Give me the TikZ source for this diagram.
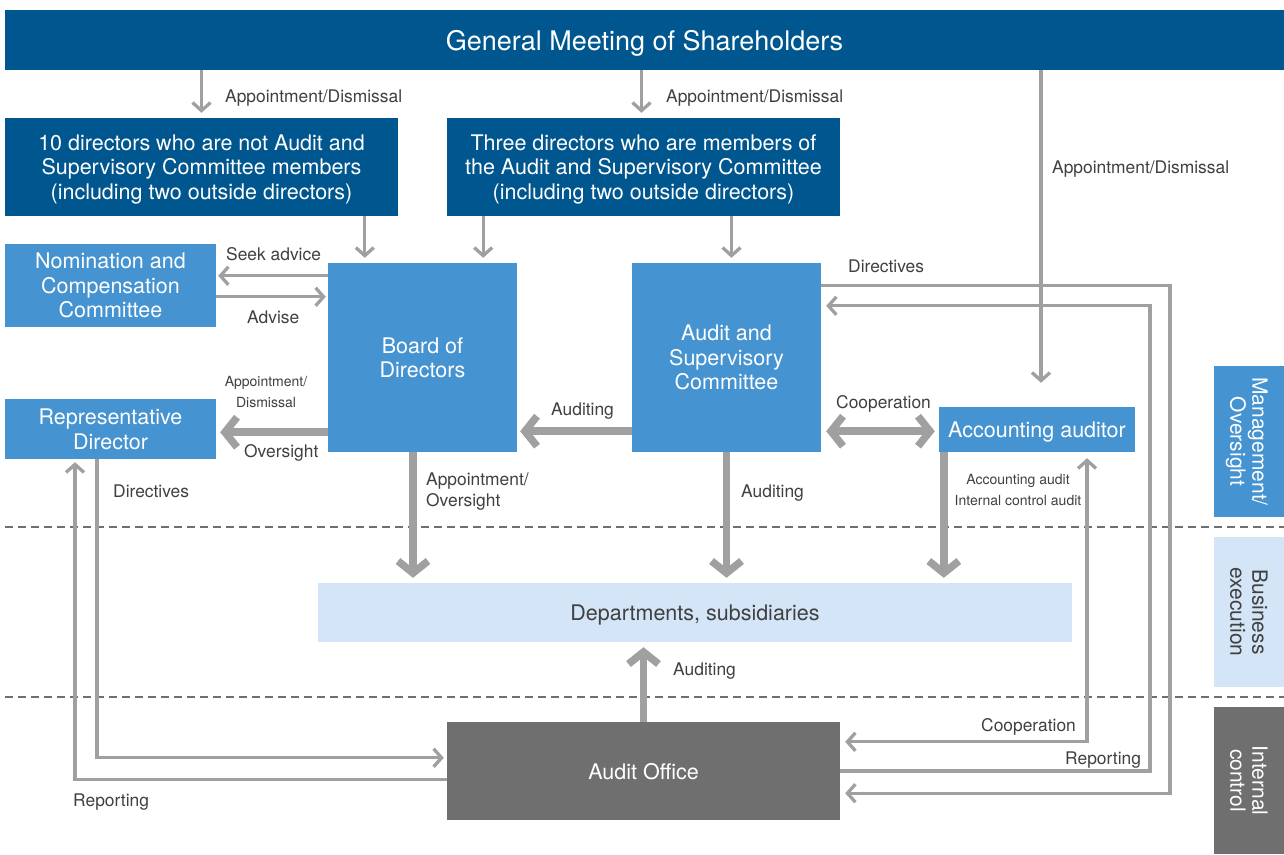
\documentclass[tikz,border=0pt]{standalone}
\usepackage{fontspec}
\setmainfont{TeX Gyre Heros}
\usetikzlibrary{arrows.meta}

\definecolor{gmsblue}{HTML}{00568F}
\definecolor{boxblue}{HTML}{4593D0}
\definecolor{paleblue}{HTML}{D3E5F6}
\definecolor{linegray}{HTML}{A0A0A0}
\definecolor{officegray}{HTML}{6F6F6F}
\definecolor{textgray}{HTML}{404040}

\tikzset{
  box/.style={rectangle, inner sep=0pt, align=center, text=white, text depth=0pt,
    font=\fontsize{21.5}{24.5}\selectfont},
  darkbox/.style={box, fill=gmsblue},
  bluebox/.style={box, fill=boxblue},
  sidebox/.style={box, rotate=-90, minimum height=70pt,
    font=\fontsize{21}{22}\selectfont},
  lbl/.style={inner sep=0pt, anchor=west, text=textgray, text depth=0pt,
    font=\fontsize{17.4}{21}\selectfont},
  smalllbl/.style={lbl, font=\fontsize{14}{21}\selectfont},
  thinarr/.style={draw=linegray, line width=3.3pt,
    -{Straight Barb[length=8pt,width=18pt]}},
  thickarr/.style={draw=linegray, line width=7.5pt,
    -{Straight Barb[length=12pt,width=30pt]}},
  zone/.style={draw=officegray, line width=1.2pt, dash pattern=on 8pt off 5pt}
}

\begin{document}
\begin{tikzpicture}[x=1pt,y=-1pt]
  \useasboundingbox[fill=white] (0,0) rectangle (1284,854);

  % zone borders
  \draw[zone] (5,527) -- (1284,527);
  \draw[zone] (5,697) -- (1284,697);

  % boxes
  \node[darkbox, minimum width=1279pt, minimum height=60pt, font=\fontsize{27}{28}\selectfont]
    (gms) at (644.5,40) {General Meeting of Shareholders};
  \node[darkbox, minimum width=393pt, minimum height=98pt] (dirs) at (201.5,167)
    {10 directors who are not Audit and\\Supervisory Committee members\\(including two outside directors)};
  \node[darkbox, minimum width=393pt, minimum height=98pt] (acm) at (643.5,167)
    {Three directors who are members of\\the Audit and Supervisory Committee\\(including two outside directors)};
  \node[bluebox, minimum width=211pt, minimum height=83pt] (nom) at (110.5,285.5)
    {Nomination and\\Compensation\\Committee};
  \node[bluebox, minimum width=189pt, minimum height=189pt] (board) at (422.5,357.5)
    {Board of\\Directors};
  \node[bluebox, minimum width=189pt, minimum height=189pt] (asc) at (726.5,357.5)
    {Audit and\\Supervisory\\Committee};
  \node[bluebox, minimum width=211pt, minimum height=60pt] (rep) at (110.5,429)
    {Representative\\Director};
  \node[bluebox, minimum width=196pt, minimum height=45pt] (aa) at (1037,429.5)
    {Accounting auditor};
  \node[box, fill=paleblue, text=textgray, minimum width=754pt, minimum height=59pt]
    (dept) at (695,612.5) {Departments, subsidiaries};
  \node[box, fill=officegray, minimum width=393pt, minimum height=98pt] (office)
    at (643.5,771) {Audit Office};

  % side captions
  \node[sidebox, fill=boxblue, minimum width=151pt] (mgmt) at (1249,441.5)
    {Management/\\Oversight};
  \node[sidebox, fill=paleblue, text=textgray, minimum width=150pt] (biz) at (1249,612)
    {Business\\execution};
  \node[sidebox, fill=officegray, minimum width=147pt] (ictl) at (1249,780.5)
    {Internal\\control};

  % columns of the long return lines
  \coordinate (rptcol) at (1150,0);
  \coordinate (dircol) at (1170,0);

  % appointments from the meeting
  \draw[thinarr, shorten >=5pt] (dirs.north |- gms.south) -- (dirs.north);
  \draw[thinarr, shorten >=5pt] ([xshift=-2pt]acm.north |- gms.south) -- ([xshift=-2pt]acm.north);
  \draw[thinarr, shorten >=24pt] ([xshift=4pt]aa.north |- gms.south) -- ([xshift=4pt]aa.north);
  \draw[thinarr, shorten >=5pt] ([xshift=37pt]board.north west |- dirs.south) -- ([xshift=37pt]board.north west);
  \draw[thinarr, shorten >=5pt] ([xshift=-34pt]board.north east |- acm.south) -- ([xshift=-34pt]board.north east);
  \draw[thinarr, shorten >=5pt] ([xshift=5pt]asc.north |- acm.south) -- ([xshift=5pt]asc.north);

  % board and committee
  \draw[thinarr, shorten >=2pt] ([yshift=-13pt]board.north west) -- ([yshift=-13pt]board.north west -| nom.east);
  \draw[thinarr, shorten >=2pt] ([yshift=-34pt]board.north west -| nom.east) -- ([yshift=-34pt]board.north west);
  \draw[thickarr, shorten >=4pt] ([yshift=20pt]board.south west) -- ([yshift=20pt]board.south west -| rep.east);
  \draw[thickarr, shorten >=3pt] ([yshift=21pt]asc.south west) -- ([yshift=21pt]asc.south west -| board.east);
  \draw[thickarr, {Straight Barb[length=12pt,width=30pt]}-{Straight Barb[length=12pt,width=30pt]},
    shorten <=5pt, shorten >=4pt] ([yshift=21pt]asc.south east) -- ([yshift=21pt]asc.south east -| aa.west);

  % down to business execution
  \draw[thickarr, shorten >=5pt] ([xshift=-9.5pt]board.south) -- ([xshift=-9.5pt]board.south |- dept.north);
  \draw[thickarr, shorten >=5pt] (asc.south) -- (asc.south |- dept.north);
  \draw[thickarr, shorten >=5pt] ([xshift=5pt]aa.south west) -- ([xshift=5pt]aa.south west |- dept.north);
  \draw[thickarr, shorten >=5pt] (office.north) -- (office.north |- dept.south);

  % audit office lines
  \draw[thinarr, {Straight Barb[length=8pt,width=18pt]}-{Straight Barb[length=8pt,width=18pt]},
    shorten <=6pt, shorten >=5pt] ([xshift=50pt]aa.south) |- ([yshift=-20pt]office.north east);
  \draw[thinarr, shorten >=5pt] (office.east) -- (office.east -| rptcol)
    -- ([yshift=-43pt]asc.north east -| rptcol) -- ([yshift=-43pt]asc.north east);
  \draw[thinarr, shorten >=5pt] ([yshift=-23pt]asc.north east) -- ([yshift=-23pt]asc.north east -| dircol)
    -- ([yshift=27pt]office.south east -| dircol) -- ([yshift=27pt]office.south east);
  \draw[thinarr, shorten >=3pt] ([xshift=-13.5pt]rep.south) |- ([yshift=-36pt]office.north west);
  \draw[thinarr, shorten >=3pt] ([yshift=-58pt]office.north west) -| ([xshift=-35.5pt]rep.south);

  % labels
  \node[lbl] (l1) at (225,96) {Appointment/Dismissal};
  \node[lbl] (l2) at (666,96) {Appointment/Dismissal};
  \node[lbl] (l3) at (1052,167) {Appointment/Dismissal};
  \node[lbl] (l4) at (226,254) {Seek advice};
  \node[lbl] (l5) at (247,317) {Advise};
  \node[smalllbl, anchor=center, align=center] (l6) at (266,392) {Appointment/\\Dismissal};
  \node[lbl] (l7) at (244,451) {Oversight};
  \node[lbl] (l8) at (551,409) {Auditing};
  \node[lbl] (l9) at (836,402) {Cooperation};
  \node[lbl] (l10) at (848,266) {Directives};
  \node[lbl] (l11) at (113,491) {Directives};
  \node[lbl, align=left] (l12) at (426,490) {Appointment/\\Oversight};
  \node[lbl] (l13) at (741,491) {Auditing};
  \node[smalllbl, anchor=center, align=center] (l14) at (1018,490) {Accounting audit\\Internal control audit};
  \node[lbl] (l15) at (673,669) {Auditing};
  \node[lbl] (l16) at (981,725) {Cooperation};
  \node[lbl] (l17) at (1065,758) {Reporting};
  \node[lbl] (l18) at (73,800) {Reporting};
\end{tikzpicture}
\end{document}
